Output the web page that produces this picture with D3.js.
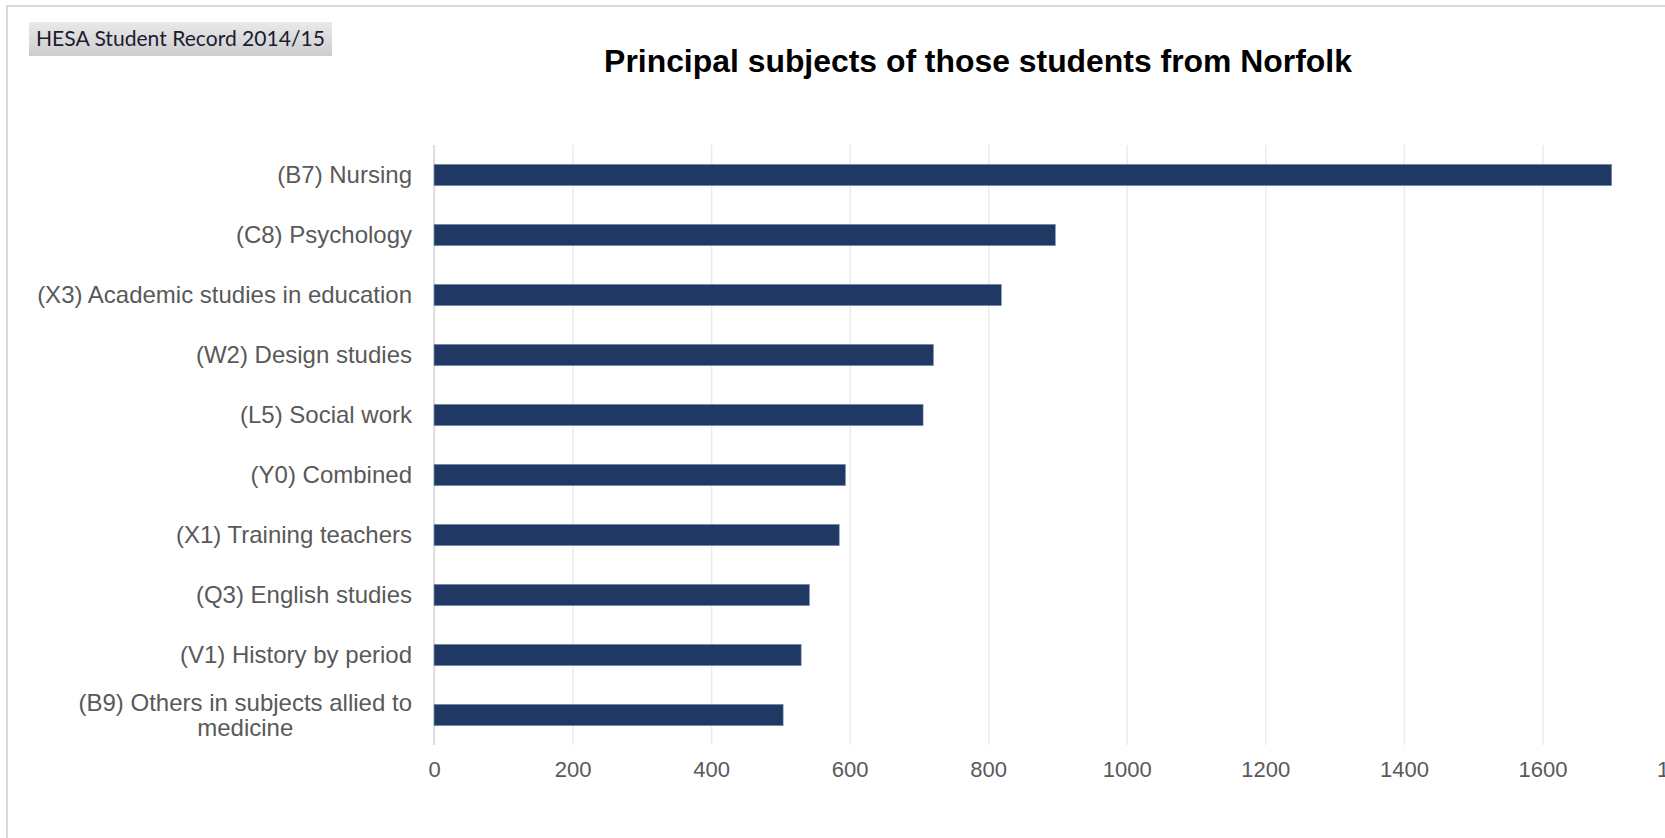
<!DOCTYPE html>
<html>
<head>
<meta charset="utf-8">
<script src="https://cdn.jsdelivr.net/npm/d3@7"></script>
<style>
html,body{margin:0;padding:0;background:#fff;overflow:hidden}
svg{display:block}
</style>
</head>
<body>
<svg id="chart" width="1665" height="838"></svg>
<script>
// ---- data ----
const categories = [
  "(B7) Nursing",
  "(C8) Psychology",
  "(X3) Academic studies in education",
  "(W2) Design studies",
  "(L5) Social work",
  "(Y0) Combined",
  "(X1) Training teachers",
  "(Q3) English studies",
  "(V1) History by period",
  "(B9) Others in subjects allied to medicine"
];
const values = [1700, 897, 819, 721, 706, 594, 585, 542, 530, 504];
const xTickValues = [0, 200, 400, 600, 800, 1000, 1200, 1400, 1600, 1800];
const titleText = "Principal subjects of those students from Norfolk";
const sourceText = "HESA Student Record 2014/15";

// ---- layout ----
const W = 1665, H = 838;
const svg = d3.select("#chart");
const plot = {left: 434, right: 1681, top: 145, bottom: 745};
const labelFont = "'Liberation Sans', Arial, sans-serif";

function fitSize(text, family, weight, target) {
  const t = svg.append("text").attr("font-family", family).attr("font-weight", weight)
    .attr("font-size", 100).text(text);
  const w = t.node().getComputedTextLength();
  t.remove();
  return 100 * target / w;
}

// frame
svg.append("rect").attr("x", 7).attr("y", 6).attr("width", W).attr("height", H)
  .attr("fill", "#fff").attr("stroke", "#d9d9d9").attr("stroke-width", 2);

// source box
const defs = svg.append("defs");
const g = defs.append("linearGradient").attr("id", "srcgrad").attr("x1", 0).attr("y1", 0).attr("x2", 0).attr("y2", 1);
g.append("stop").attr("offset", "0%").attr("stop-color", "#e9e9e9");
g.append("stop").attr("offset", "100%").attr("stop-color", "#cdcdcd");
svg.append("rect").attr("x", 29).attr("y", 22).attr("width", 303).attr("height", 34)
  .attr("fill", "url(#srcgrad)");
const srcFamily = "Lato, 'Open Sans', sans-serif";
svg.append("text").attr("x", 36).attr("y", 39).attr("dy", "0.35em")
  .attr("font-family", srcFamily).attr("font-size", fitSize(sourceText, srcFamily, "normal", 289))
  .attr("fill", "#1b1b33").text(sourceText);

// title
const titleFamily = "'Liberation Sans', Arial, sans-serif";
svg.append("text").attr("x", 978).attr("y", 60.5).attr("dy", "0.35em")
  .attr("text-anchor", "middle").attr("font-family", titleFamily).attr("font-weight", "bold")
  .attr("font-size", fitSize(titleText, titleFamily, "bold", 748))
  .attr("fill", "#000").text(titleText);

// scales
const x = d3.scaleLinear().domain([0, 1800]).range([plot.left, plot.right]);
const y = d3.scaleBand().domain(categories).range([plot.top, plot.bottom])
  .paddingInner(0.643).paddingOuter(0.3215);

// gridlines + tick labels
const tickSize = fitSize("1200", labelFont, "normal", 49);
const xAxis = d3.axisBottom(x).tickValues(xTickValues).tickFormat(d3.format("d"))
  .tickSize(-(plot.bottom - plot.top)).tickPadding(16);
const ax = svg.append("g").attr("transform", `translate(0,${plot.bottom})`).call(xAxis);
ax.select(".domain").remove();
ax.selectAll(".tick line").attr("stroke", "#ebebeb").attr("stroke-width", 1.5);
ax.selectAll(".tick text").attr("font-family", labelFont).attr("font-size", tickSize)
  .attr("fill", "#595959");

// vertical axis line at 0
svg.append("line").attr("x1", x(0)).attr("x2", x(0)).attr("y1", plot.top).attr("y2", plot.bottom)
  .attr("stroke", "#d9d9d9").attr("stroke-width", 1.5);

// bars
svg.append("g").selectAll("rect").data(values).join("rect")
  .attr("x", x(0)).attr("y", (d, i) => y(categories[i]))
  .attr("width", d => x(d) - x(0)).attr("height", y.bandwidth())
  .attr("fill", "#203864").attr("stroke", "#8a9ab8").attr("stroke-width", 0.6);

// category labels (wrapped, right aligned block, centered lines)
const catSize = fitSize(categories[2], labelFont, "normal", 375);
const wrapWidth = 390;
const labelRight = 412;
const lineH = catSize * 1.02;
categories.forEach(cat => {
  const words = cat.split(" ");
  const lines = [];
  let cur = "";
  words.forEach(w => {
    const trial = cur ? cur + " " + w : w;
    const tw = (function(){
      const t = svg.append("text").attr("font-family", labelFont).attr("font-size", catSize).text(trial);
      const v = t.node().getComputedTextLength(); t.remove(); return v;
    })();
    if (tw > wrapWidth && cur) { lines.push(cur); cur = w; } else { cur = trial; }
  });
  lines.push(cur);
  const widths = lines.map(l => {
    const t = svg.append("text").attr("font-family", labelFont).attr("font-size", catSize).text(l);
    const v = t.node().getComputedTextLength(); t.remove(); return v;
  });
  const blockW = d3.max(widths);
  const cx = labelRight - blockW / 2;
  const cy = y(cat) + y.bandwidth() / 2;
  const t = svg.append("text").attr("font-family", labelFont).attr("font-size", catSize)
    .attr("fill", "#595959").attr("text-anchor", lines.length > 1 ? "middle" : "end");
  lines.forEach((l, i) => {
    t.append("tspan").attr("x", lines.length > 1 ? cx : labelRight)
      .attr("y", cy + (i - (lines.length - 1) / 2) * lineH).attr("dy", "0.35em").text(l);
  });
});
</script>
</body>
</html>
